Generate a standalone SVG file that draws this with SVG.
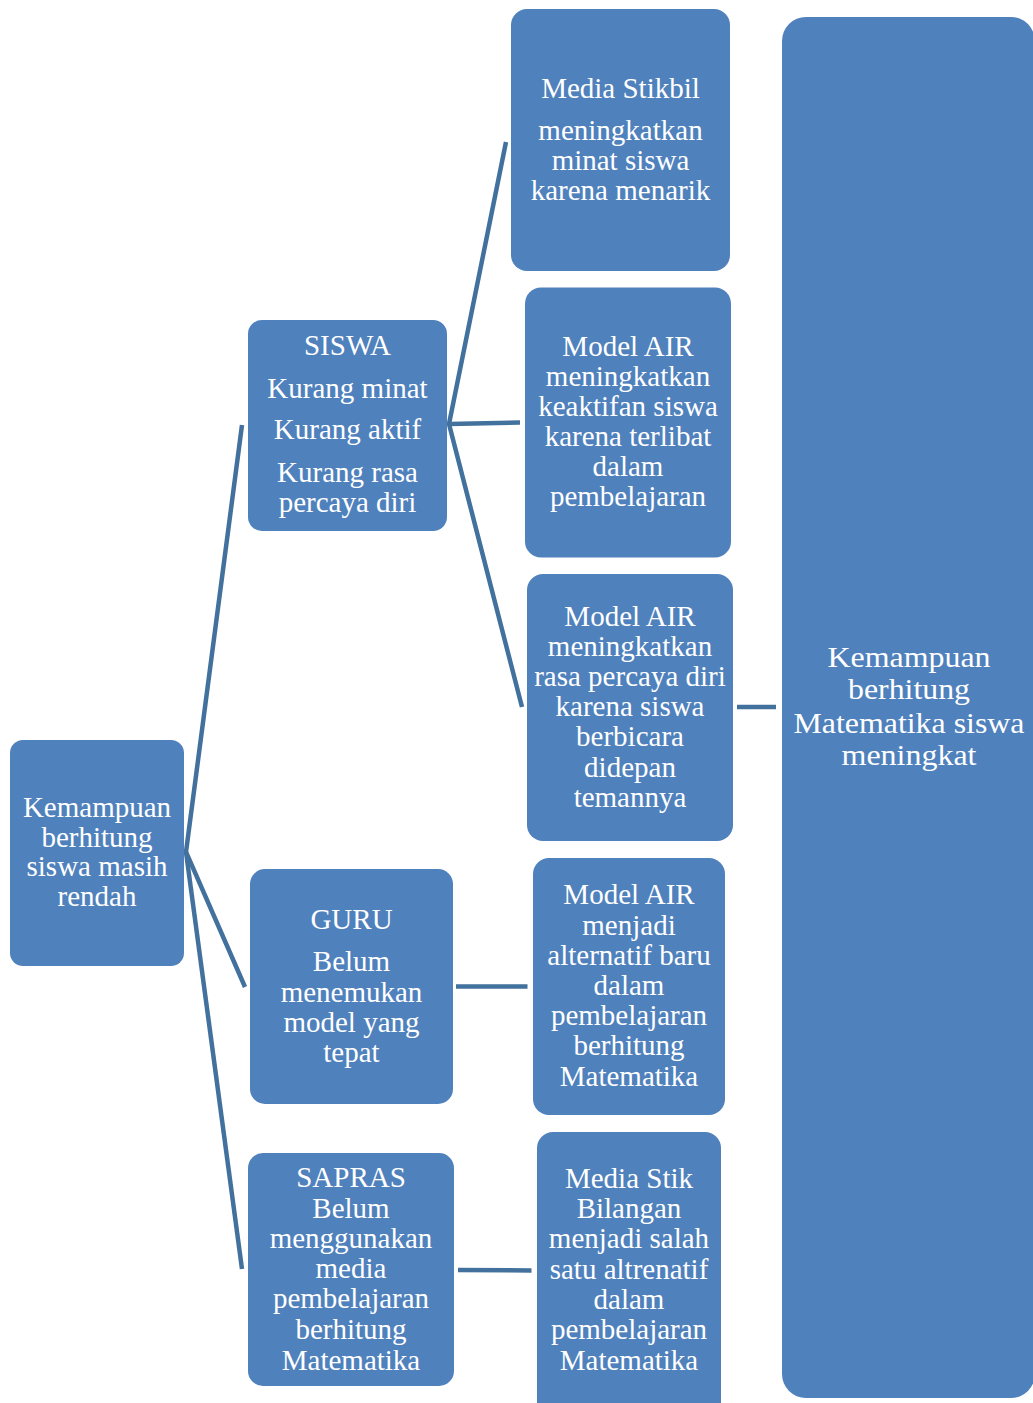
<svg xmlns="http://www.w3.org/2000/svg" width="1033" height="1403" viewBox="0 0 1033 1403">
<style>
.box{fill:#4F81BD;}
.t{font-family:"Liberation Serif","Times New Roman",serif;font-size:29px;fill:#FFFFFF;text-anchor:middle;}
.tb{font-family:"Liberation Serif","Times New Roman",serif;font-size:30px;fill:#FFFFFF;text-anchor:middle;}
.c{stroke:#41719C;stroke-width:4.5;fill:none;stroke-linecap:butt;}
</style>
<rect width="1033" height="1403" fill="#FFFFFF"/>
<g id="connectors">
<polyline class="c" points="242,425 186,852 245,987"/>
<line class="c" x1="186" y1="852" x2="242" y2="1269"/>
<polyline class="c" points="506,142 449,424 522,707"/>
<line class="c" x1="449" y1="424" x2="520" y2="422.5"/>
<line class="c" x1="737" y1="707" x2="776" y2="707"/>
<line class="c" x1="456" y1="986.5" x2="527.5" y2="986.5"/>
<line class="c" x1="458" y1="1270" x2="531.5" y2="1270.5"/>
</g>
<g id="root">
<rect class="box" x="10" y="740" width="174" height="226" rx="13"/>
<text class="t"><tspan x="97" y="817">Kemampuan</tspan><tspan x="97" y="847">berhitung</tspan><tspan x="97" y="876">siswa masih</tspan><tspan x="97" y="906">rendah</tspan></text>
</g>
<g id="siswa">
<rect class="box" x="248" y="320" width="199" height="211" rx="14"/>
<text class="t"><tspan x="347.5" y="355">SISWA</tspan><tspan x="347.5" y="398">Kurang minat</tspan><tspan x="347.5" y="439">Kurang aktif</tspan><tspan x="347.5" y="482">Kurang rasa</tspan><tspan x="347.5" y="512">percaya diri</tspan></text>
</g>
<g id="guru">
<rect class="box" x="250" y="869" width="203" height="235" rx="15"/>
<text class="t"><tspan x="351.5" y="929">GURU</tspan><tspan x="351.5" y="971">Belum</tspan><tspan x="351.5" y="1001.5">menemukan</tspan><tspan x="351.5" y="1031.5">model yang</tspan><tspan x="351.5" y="1062">tepat</tspan></text>
</g>
<g id="sapras">
<rect class="box" x="248" y="1153" width="206" height="233" rx="15"/>
<text class="t"><tspan x="351" y="1187">SAPRAS</tspan><tspan x="351" y="1217.5">Belum</tspan><tspan x="351" y="1248">menggunakan</tspan><tspan x="351" y="1278">media</tspan><tspan x="351" y="1308">pembelajaran</tspan><tspan x="351" y="1338.5">berhitung</tspan><tspan x="351" y="1369.5">Matematika</tspan></text>
</g>
<g id="media-stikbil">
<rect class="box" x="511" y="9" width="219" height="262" rx="16"/>
<text class="t"><tspan x="620.5" y="98">Media Stikbil</tspan><tspan x="620.5" y="139.5">meningkatkan</tspan><tspan x="620.5" y="169.5">minat siswa</tspan><tspan x="620.5" y="199.5">karena menarik</tspan></text>
</g>
<g id="model-air-keaktifan">
<rect class="box" x="525" y="287.5" width="206" height="270" rx="16"/>
<text class="t"><tspan x="628" y="355.5">Model AIR</tspan><tspan x="628" y="385.5">meningkatkan</tspan><tspan x="628" y="415.5">keaktifan siswa</tspan><tspan x="628" y="446">karena terlibat</tspan><tspan x="628" y="476">dalam</tspan><tspan x="628" y="506">pembelajaran</tspan></text>
</g>
<g id="model-air-percaya-diri">
<rect class="box" x="527" y="574" width="206" height="267" rx="16"/>
<text class="t"><tspan x="630" y="625.5">Model AIR</tspan><tspan x="630" y="655.5">meningkatkan</tspan><tspan x="630" y="686">rasa percaya diri</tspan><tspan x="630" y="716">karena siswa</tspan><tspan x="630" y="746">berbicara</tspan><tspan x="630" y="776.5">didepan</tspan><tspan x="630" y="806.5">temannya</tspan></text>
</g>
<g id="model-air-alternatif">
<rect class="box" x="533" y="858" width="192" height="257" rx="16"/>
<text class="t"><tspan x="629" y="904">Model AIR</tspan><tspan x="629" y="934.5">menjadi</tspan><tspan x="629" y="965">alternatif baru</tspan><tspan x="629" y="995">dalam</tspan><tspan x="629" y="1025">pembelajaran</tspan><tspan x="629" y="1055">berhitung</tspan><tspan x="629" y="1086">Matematika</tspan></text>
</g>
<g id="media-stik-bilangan">
<rect class="box" x="537" y="1132" width="184" height="290" rx="16"/>
<text class="t"><tspan x="629" y="1188">Media Stik</tspan><tspan x="629" y="1218">Bilangan</tspan><tspan x="629" y="1248">menjadi salah</tspan><tspan x="629" y="1279">satu altrenatif</tspan><tspan x="629" y="1309">dalam</tspan><tspan x="629" y="1339">pembelajaran</tspan><tspan x="629" y="1370">Matematika</tspan></text>
</g>
<g id="hasil">
<rect class="box" x="782" y="17" width="253" height="1381" rx="24"/>
<text class="tb" x="909" y="667" textLength="163" lengthAdjust="spacingAndGlyphs">Kemampuan</text>
<text class="tb" x="909" y="698.5" textLength="122" lengthAdjust="spacingAndGlyphs">berhitung</text>
<text class="tb" x="909" y="733" textLength="231" lengthAdjust="spacingAndGlyphs">Matematika siswa</text>
<text class="tb" x="909" y="765" textLength="135" lengthAdjust="spacingAndGlyphs">meningkat</text>
</g>
</svg>
